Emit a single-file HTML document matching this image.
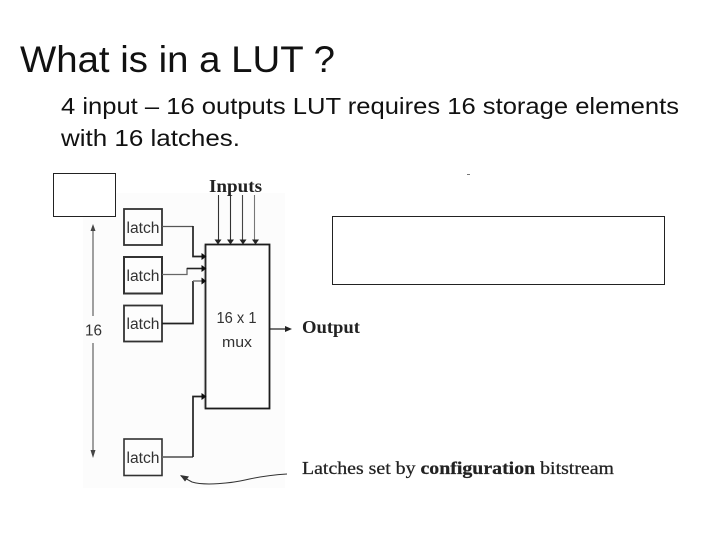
<!DOCTYPE html>
<html>
<head>
<meta charset="utf-8">
<style>
html,body{margin:0;padding:0;background:#fff;width:720px;height:540px;overflow:hidden}
svg{display:block}
</style>
</head>
<body>
<svg width="720" height="540" viewBox="0 0 720 540" xmlns="http://www.w3.org/2000/svg">
<defs><filter id="b" x="-5%" y="-5%" width="110%" height="110%"><feGaussianBlur stdDeviation="0.35"/></filter></defs>
<rect width="720" height="540" fill="#fff"/>
<rect x="83" y="193" width="202" height="295" fill="#fcfcfc"/>

<g font-family="'Liberation Sans',sans-serif" fill="#111">
<text x="20" y="72" font-size="37" textLength="315" lengthAdjust="spacingAndGlyphs">What is in a LUT ?</text>
<text x="61" y="114" font-size="23.500" textLength="618" lengthAdjust="spacingAndGlyphs">4 input – 16 outputs LUT requires 16 storage elements</text>
<text x="61" y="146" font-size="23.500" textLength="179" lengthAdjust="spacingAndGlyphs">with 16 latches.</text>
</g>

<rect x="53.500" y="173.500" width="62" height="43" fill="#fff" stroke="#222" stroke-width="1"/>
<rect x="332.500" y="216.500" width="332" height="68" fill="#fff" stroke="#222" stroke-width="1"/>
<rect x="467" y="174" width="3" height="1" fill="#777"/>

<g filter="url(#b)">
<!-- latches -->
<g fill="#fdfdfd" stroke="#333">
<rect x="124" y="209" width="38" height="36" stroke-width="1.800"/>
<rect x="124" y="257" width="38" height="36.500" stroke-width="2"/>
<rect x="124" y="305.500" width="38" height="36" stroke-width="1.800"/>
<rect x="124" y="439" width="38" height="36.500" stroke-width="1.600"/>
</g>

<!-- mux -->
<rect x="205.500" y="244.500" width="64" height="164" fill="#fdfdfd" stroke="#1a1a1a" stroke-width="1.800"/>
<line x1="204.500" y1="245" x2="204.500" y2="408" stroke="#999" stroke-width="1.200"/>

<g font-family="'Liberation Sans',sans-serif" fill="#333">
<text x="126.500" y="233" font-size="15.500" textLength="33" lengthAdjust="spacingAndGlyphs">latch</text>
<text x="126.500" y="281" font-size="15.500" textLength="33" lengthAdjust="spacingAndGlyphs">latch</text>
<text x="126.500" y="329" font-size="15.500" textLength="33" lengthAdjust="spacingAndGlyphs">latch</text>
<text x="126.500" y="463" font-size="15.500" textLength="33" lengthAdjust="spacingAndGlyphs">latch</text>
<text x="85" y="335.500" font-size="16" textLength="17" lengthAdjust="spacingAndGlyphs">16</text>
<text x="216.500" y="323" font-size="15.500" textLength="40" lengthAdjust="spacingAndGlyphs">16 x 1</text>
<text x="222" y="347" font-size="15" textLength="30" lengthAdjust="spacingAndGlyphs">mux</text>
</g>

<!-- latch connectors -->
<g fill="none">
<path d="M162 226.500H193" stroke="#555" stroke-width="1.200"/>
<path d="M193 226V256.500H205" stroke="#222" stroke-width="1.700"/>
<path d="M162 274.500H187V268.500H205" stroke="#666" stroke-width="1.300"/>
<path d="M187 268.500H205" stroke="#222" stroke-width="1.500"/>
<path d="M162 323.500H193V281" stroke="#222" stroke-width="1.700"/>
<path d="M193 281H205" stroke="#777" stroke-width="1.500"/>
<path d="M162 457H193" stroke="#666" stroke-width="1.700"/>
<path d="M193 457V396.500H205" stroke="#222" stroke-width="1.700"/>
</g>
<g fill="#111">
<path d="M206.500 256.500l-5-3.500v7z"/>
<path d="M206.500 268.500l-5-3.500v7z"/>
<path d="M206.500 281l-5-3.500v7z"/>
<path d="M206.500 396.500l-5-3.500v7z"/>
</g>

<!-- input arrows -->
<g stroke-width="1.100">
<line x1="218.500" y1="195" x2="218.500" y2="242" stroke="#333"/>
<line x1="230.500" y1="195" x2="230.500" y2="242" stroke="#333"/>
<line x1="242.500" y1="195" x2="242.500" y2="242" stroke="#444"/>
<line x1="254.500" y1="195" x2="254.500" y2="242" stroke="#777"/>
</g>
<g fill="#222">
<path d="M218 244.500l-3.500-5h7z"/>
<path d="M230.500 244.500l-3.500-5h7z"/>
<path d="M243 244.500l-3.500-5h7z"/>
<path d="M255.500 244.500l-3.500-5h7z"/>
</g>

<!-- output -->
<line x1="270" y1="329" x2="288" y2="329" stroke="#222" stroke-width="1.300"/>
<path d="M292 329l-7-3v6z" fill="#222"/>

<!-- 16 arrow -->
<line x1="93" y1="228" x2="93" y2="316" stroke="#888" stroke-width="1.600"/>
<line x1="93" y1="343" x2="93" y2="455" stroke="#888" stroke-width="1.600"/>
<path d="M93 224l-2.500 7h5z" fill="#444"/>
<path d="M93 458l-2.500-8h5z" fill="#444"/>

<!-- curve -->
<path d="M287 474C270 475 258 477 245 480C232 483 205 486 192 482L181 476" fill="none" stroke="#333" stroke-width="1"/>
<path d="M180 475l9 1.500-4 5z" fill="#333"/>

<!-- serif labels -->
<g font-family="'Liberation Serif',serif" font-weight="bold" fill="#222">
<text x="209" y="192" font-size="18" textLength="53" lengthAdjust="spacingAndGlyphs">Inputs</text>
<text x="302" y="333" font-size="18" textLength="58" lengthAdjust="spacingAndGlyphs">Output</text>
</g>
<text x="302" y="474" font-family="'Liberation Serif',serif" font-size="18" fill="#222" stroke="#222" stroke-width="0.250" textLength="312" lengthAdjust="spacingAndGlyphs">Latches set by <tspan font-weight="bold">configuration</tspan> bitstream</text>
</g>
</svg>
</body>
</html>
